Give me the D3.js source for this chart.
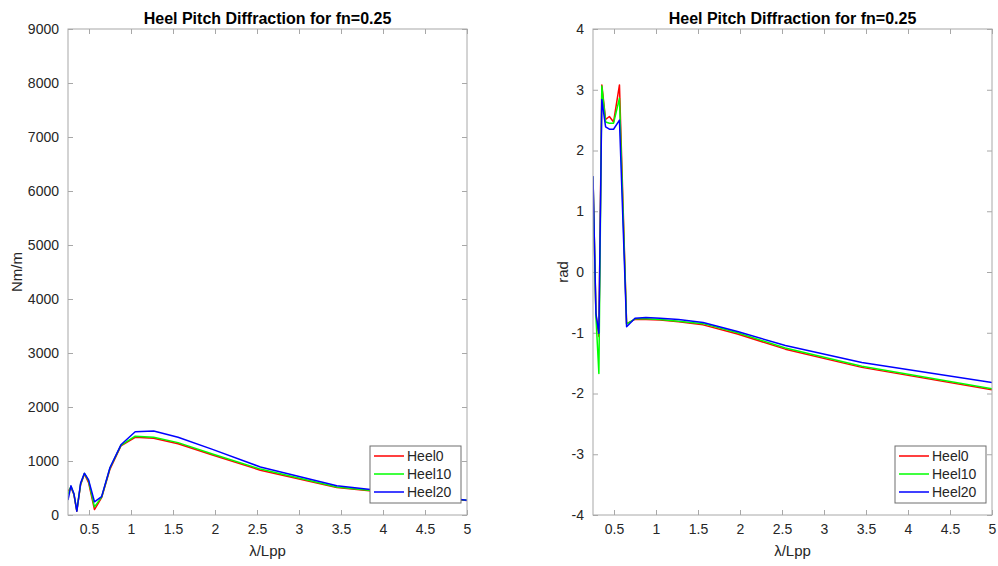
<!DOCTYPE html>
<html>
<head>
<meta charset="utf-8">
<script src="https://cdn.jsdelivr.net/npm/d3@7"></script>
<style>
    body { margin: 0; background: #fff; }
    svg { display: block; font-family: "Liberation Sans", Arial, sans-serif; }
</style>
</head>
<body>
<svg id="chart" width="998" height="566"></svg>
<script>

// λ/Lpp sample points (shared by every series)
const lambdaLpp = [0.25, 0.285, 0.32, 0.355, 0.40, 0.445, 0.495, 0.565, 0.65, 0.75, 0.88, 1.05, 1.27, 1.56, 1.97, 2.54, 3.45, 5.0];

const seriesNames = ['Heel0', 'Heel10', 'Heel20'];
const seriesColors = ['#ff0000', '#00ff00', '#0000ff'];

// amplitude, Nm/m
const ampHeel0  = [440, 510, 380, 70, 560, 760, 600, 100, 320, 850, 1280, 1440, 1420, 1320, 1110, 830, 510, 270];
const ampHeel10 = [380, 530, 390, 80, 570, 770, 630, 150, 330, 870, 1290, 1460, 1440, 1340, 1130, 850, 520, 272];
const ampHeel20 = [278, 540, 400, 70, 590, 775, 650, 245, 340, 880, 1300, 1543, 1555, 1440, 1215, 890, 540, 275];

// phase, rad
const phaseHeel0  = [1.56, -0.70, -1.06, 3.08, 2.51, 2.56, 2.47, 3.08, -0.85, -0.78, -0.78, -0.79, -0.82, -0.87, -1.02, -1.27, -1.57, -1.94];
const phaseHeel10 = [1.57, -0.74, -1.67, 3.06, 2.47, 2.45, 2.45, 2.86, -0.86, -0.77, -0.77, -0.78, -0.81, -0.85, -1.00, -1.25, -1.55, -1.92];
const phaseHeel20 = [1.58, -0.68, -1.01, 2.84, 2.39, 2.35, 2.35, 2.50, -0.90, -0.76, -0.75, -0.76, -0.78, -0.83, -0.98, -1.21, -1.49, -1.82];

const xTicks = [0.5, 1, 1.5, 2, 2.5, 3, 3.5, 4, 4.5, 5];
const ampTicks = [0, 1000, 2000, 3000, 4000, 5000, 6000, 7000, 8000, 9000];
const phaseTicks = [-4, -3, -2, -1, 0, 1, 2, 3, 4];

const titleText = 'Heel Pitch Diffraction for fn=0.25';

const svg = d3.select('#chart');
const axisColor = '#a8a8a8';
const textColor = '#262626';

function drawPanel({left, top, width, height, yDomain, yTicks, yLabel, yLabelX, series}) {

    const x = d3.scaleLinear().domain([lambdaLpp[0], 5]).range([left, left + width]);
    const y = d3.scaleLinear().domain(yDomain).range([top + height, top]);

    const g = svg.append('g');

    const styleAxis = (sel, showLabels) => {
        sel.select('.domain').remove();
        sel.selectAll('.tick line').attr('stroke', axisColor);
        sel.selectAll('.tick text')
            .attr('fill', textColor)
            .style('font-size', '14px')
            .style('font-family', '"Liberation Sans", Arial, sans-serif')
            .style('display', showLabels ? null : 'none');
    };

    const plain = d => String(d);

    // bottom / top
    g.append('g')
        .attr('transform', `translate(0,${top + height})`)
        .call(d3.axisBottom(x).tickValues(xTicks).tickSize(-5).tickPadding(9).tickFormat(plain))
        .call(s => styleAxis(s, true));
    g.append('g')
        .attr('transform', `translate(0,${top})`)
        .call(d3.axisTop(x).tickValues(xTicks).tickSize(-5))
        .call(s => styleAxis(s, false));

    // left / right
    g.append('g')
        .attr('transform', `translate(${left},0)`)
        .call(d3.axisLeft(y).tickValues(yTicks).tickSize(-5).tickPadding(9).tickFormat(plain))
        .call(s => styleAxis(s, true));
    g.append('g')
        .attr('transform', `translate(${left + width},0)`)
        .call(d3.axisRight(y).tickValues(yTicks).tickSize(-5))
        .call(s => styleAxis(s, false));

    const line = d3.line()
        .x((d, i) => x(lambdaLpp[i]))
        .y(d => y(d));

    g.append('defs').append('clipPath')
        .attr('id', `clip-${left}`)
        .append('rect')
        .attr('x', left).attr('y', top)
        .attr('width', width).attr('height', height);

    g.append('g')
        .attr('clip-path', `url(#clip-${left})`)
        .selectAll('path')
        .data(series)
        .join('path')
        .attr('d', d => line(d))
        .attr('fill', 'none')
        .attr('stroke', (d, i) => seriesColors[i])
        .attr('stroke-width', 1.5)
        .attr('stroke-linejoin', 'round');

    // box
    g.append('rect')
        .attr('x', left).attr('y', top)
        .attr('width', width).attr('height', height)
        .attr('fill', 'none')
        .attr('stroke', axisColor)
        .attr('stroke-width', 1);

    // title
    g.append('text')
        .attr('x', left + width / 2)
        .attr('y', top - 5)
        .attr('text-anchor', 'middle')
        .attr('fill', '#000')
        .style('font-size', '16px')
        .style('font-weight', 'bold')
        .text(titleText);

    // x label
    g.append('text')
        .attr('x', left + width / 2)
        .attr('y', top + height + 41)
        .attr('text-anchor', 'middle')
        .attr('fill', textColor)
        .style('font-size', '15px')
        .text('λ/Lpp');

    // y label
    g.append('text')
        .attr('transform', `translate(${yLabelX},${top + height / 2}) rotate(-90)`)
        .attr('text-anchor', 'middle')
        .attr('fill', textColor)
        .style('font-size', '15px')
        .text(yLabel);

    // legend
    const legX = left + width - 97, legY = top + height - 69;
    const legend = g.append('g');
    legend.append('rect')
        .attr('x', legX).attr('y', legY)
        .attr('width', 91).attr('height', 57)
        .attr('fill', '#fff')
        .attr('stroke', '#6e6e6e')
        .attr('stroke-width', 1);

    seriesNames.forEach((name, i) => {
        const ry = legY + 10 + i * 18;
        legend.append('line')
            .attr('x1', legX + 4).attr('x2', legX + 34)
            .attr('y1', ry).attr('y2', ry)
            .attr('stroke', seriesColors[i])
            .attr('stroke-width', 1.5);
        legend.append('text')
            .attr('x', legX + 37)
            .attr('y', ry + 5)
            .attr('fill', textColor)
            .style('font-size', '14px')
            .text(name);
    });
}

drawPanel({
    left: 68, top: 29, width: 399, height: 486,
    yDomain: [0, 9000], yTicks: ampTicks,
    yLabel: 'Nm/m', yLabelX: 22,
    series: [ampHeel0, ampHeel10, ampHeel20]
});

drawPanel({
    left: 593, top: 29, width: 399, height: 486,
    yDomain: [-4, 4], yTicks: phaseTicks,
    yLabel: 'rad', yLabelX: 568,
    series: [phaseHeel0, phaseHeel10, phaseHeel20]
});

</script>
</body>
</html>
